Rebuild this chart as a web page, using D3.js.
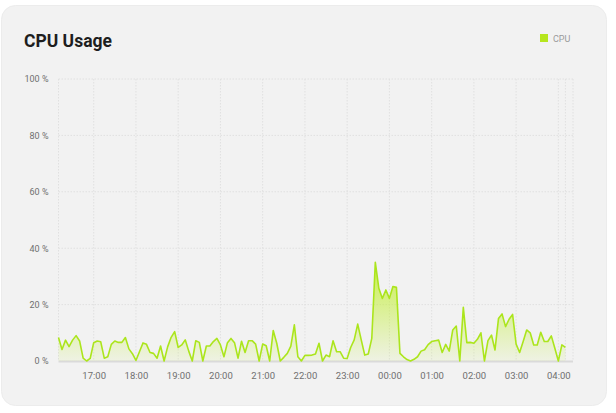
<!DOCTYPE html>
<html>
<head>
<meta charset="utf-8">
<script src="https://cdn.jsdelivr.net/npm/d3@7"></script>
<style>
  html, body { margin: 0; padding: 0; background: #ffffff; }
  body { width: 616px; height: 413px; overflow: hidden; font-family: Roboto, "Noto Sans", sans-serif; }
</style>
</head>
<body>
<div id="chart"></div>
<script>
// CPU usage samples (%), one every 5 minutes starting 16:10
const startTime = '2024-01-01T16:10:00';
const stepMinutes = 5;
const cpuValues = [
  8.3, 4.1, 7.4, 5.1, 7.4, 9.0, 7.1, 1.0, 0.0, 0.9,
  6.5, 7.1, 6.8, 1.0, 1.5, 5.9, 7.1, 6.6, 6.6, 8.3,
  4.3, 2.6, 0.2, 3.3, 6.4, 5.9, 3.0, 2.7, 1.0, 5.3,
  0.0, 5.0, 8.4, 10.4, 4.8, 5.7, 7.5, 3.5, 0.0, 7.2,
  6.6, 0.0, 5.3, 5.3, 6.9, 8.0, 5.7, 1.5, 6.5, 8.0,
  6.5, 1.0, 7.0, 3.0, 7.2, 7.2, 6.0, 0.0, 6.0, 5.4,
  0.0, 10.8, 6.3, 0.0, 1.3, 2.7, 5.3, 12.8, 1.5, 0.0,
  2.0, 2.0, 2.1, 2.5, 6.3, 0.0, 2.1, 1.5, 7.2, 3.3,
  3.3, 1.0, 0.9, 4.8, 7.5, 13.1, 7.5, 2.1, 2.5, 8.0,
  35.0, 25.8, 22.2, 25.2, 22.2, 26.4, 26.1, 2.7, 1.5, 0.5,
  0.0, 0.6, 1.5, 3.5, 4.0, 5.8, 6.9, 7.2, 7.4, 3.0,
  5.9, 3.5, 11.0, 12.4, 0.0, 19.0, 6.5, 6.6, 6.3, 7.7,
  10.0, 0.0, 7.2, 9.2, 3.9, 15.1, 16.7, 12.2, 14.8, 16.5,
  6.0, 3.0, 6.9, 11.0, 10.0, 5.7, 5.7, 10.2, 6.9, 6.9,
  8.9, 4.5, 0.0, 5.7, 4.8
];
const yTicks = [0, 20, 40, 60, 80, 100];
const seriesName = 'CPU';

const width = 616;
const height = 413;
const margin = { top: 79, right: 43, bottom: 52, left: 58.5 };
const plotW = width - margin.left - margin.right;
const plotH = height - margin.top - margin.bottom;
const dataW = plotW - 7.6; // series stops a little short of the frame

const lineColor = '#abe51c';
const gridColor = '#e0e0e0';
const textColor = '#6f6f6f';

const t0 = new Date(startTime);
const data = cpuValues.map((v, i) => ({
  t: new Date(t0.getTime() + i * stepMinutes * 60000),
  v: v
}));

const svg = d3.select('#chart').append('svg')
  .attr('width', width)
  .attr('height', height);

// Card background
svg.append('rect')
  .attr('x', 1.5).attr('y', 5.5)
  .attr('width', 605).attr('height', 400)
  .attr('rx', 14)
  .attr('fill', '#f2f2f2')
  .attr('stroke', '#ececec');

// Title
svg.append('text')
  .attr('x', 24).attr('y', 47)
  .style('font-family', 'Roboto, sans-serif')
  .style('font-weight', '700')
  .style('font-size', '17.5px')
  .style('fill', '#1e1e1e')
  .text('CPU Usage');

// Legend
svg.append('rect')
  .attr('x', 540).attr('y', 34)
  .attr('width', 8).attr('height', 8)
  .attr('fill', '#b6e61e');
svg.append('text')
  .attr('x', 553).attr('y', 41.5)
  .style('font-size', '9px')
  .style('fill', '#9a9a9a')
  .text(seriesName);

const g = svg.append('g')
  .attr('transform', `translate(${margin.left},${margin.top})`);

const x = d3.scaleTime()
  .domain(d3.extent(data, d => d.t))
  .range([0, dataW]);

const y = d3.scaleLinear()
  .domain([0, 100])
  .range([plotH, 0]);

// Hour ticks
const hourTicks = d3.timeHour.range(
  d3.timeHour.ceil(data[0].t),
  data[data.length - 1].t
);

// Horizontal grid
g.append('g')
  .selectAll('line')
  .data(yTicks.filter(d => d > 0))
  .join('line')
  .attr('x1', 0).attr('x2', plotW)
  .attr('y1', d => y(d)).attr('y2', d => y(d))
  .attr('stroke', gridColor)
  .attr('stroke-width', 1)
  .attr('stroke-dasharray', '1.5,1.5');

// Vertical grid
const vLines = [0, ...hourTicks.map(d => x(d)), dataW, plotW];
g.append('g')
  .selectAll('line')
  .data(vLines)
  .join('line')
  .attr('x1', d => d).attr('x2', d => d)
  .attr('y1', 0).attr('y2', plotH)
  .attr('stroke', gridColor)
  .attr('stroke-width', 1)
  .attr('stroke-dasharray', '1.5,1.5');

// Baseline
g.append('line')
  .attr('x1', 0).attr('x2', plotW)
  .attr('y1', plotH + 0.5).attr('y2', plotH + 0.5)
  .attr('stroke', '#dadada')
  .attr('stroke-width', 2);

// Y labels
g.append('g')
  .call(d3.axisLeft(y).tickValues(yTicks).tickSize(0).tickPadding(10).tickFormat(d => `${d} %`))
  .call(a => a.select('.domain').remove())
  .selectAll('text')
  .style('font-family', 'Roboto, sans-serif')
  .style('font-size', '9px')
  .style('fill', textColor);

// X labels
g.append('g')
  .attr('transform', `translate(0,${plotH})`)
  .call(d3.axisBottom(x).tickValues(hourTicks).tickSize(0).tickPadding(11).tickFormat(d3.timeFormat('%H:%M')))
  .call(a => a.select('.domain').remove())
  .selectAll('text')
  .style('font-family', 'Roboto, sans-serif')
  .style('font-size', '9.5px')
  .style('fill', textColor);

// Gradient for area
const defs = svg.append('defs');
const grad = defs.append('linearGradient')
  .attr('id', 'cpuFill')
  .attr('gradientUnits', 'userSpaceOnUse')
  .attr('x1', 0).attr('x2', 0)
  .attr('y1', y(d3.max(cpuValues))).attr('y2', y(0));
grad.append('stop').attr('offset', '0%').attr('stop-color', '#c4ef3c').attr('stop-opacity', 0.9);
grad.append('stop').attr('offset', '100%').attr('stop-color', '#c4ef3c').attr('stop-opacity', 0.08);

const area = d3.area()
  .x(d => x(d.t))
  .y0(y(0))
  .y1(d => y(d.v));

const line = d3.line()
  .x(d => x(d.t))
  .y(d => y(d.v));

g.append('path')
  .datum(data)
  .attr('fill', 'url(#cpuFill)')
  .attr('d', area);

g.append('path')
  .datum(data)
  .attr('fill', 'none')
  .attr('stroke', lineColor)
  .attr('stroke-width', 1.6)
  .attr('stroke-linejoin', 'round')
  .attr('d', line);
</script>
</body>
</html>
